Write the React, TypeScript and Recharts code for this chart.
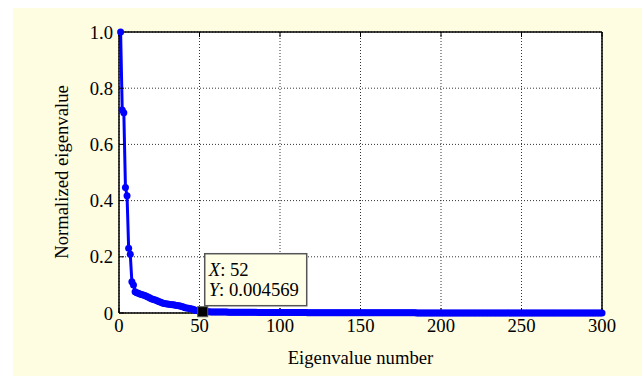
import React from 'react';
import { CartesianGrid, Line, LineChart, ReferenceDot, XAxis, YAxis } from 'recharts';

// normalized eigenvalues, index 1..300
const EIGENVALUES = [
  1.0, 0.722, 0.713, 0.447, 0.417, 0.23, 0.209, 0.111, 0.1, 0.076,
  0.072, 0.07, 0.068, 0.066, 0.064, 0.062, 0.06, 0.057, 0.054, 0.051,
  0.049, 0.047, 0.045, 0.043, 0.04, 0.038, 0.036, 0.034, 0.033, 0.032,
  0.031, 0.03, 0.029, 0.029, 0.028, 0.027, 0.026, 0.025, 0.023, 0.021,
  0.019, 0.018, 0.017, 0.016, 0.014, 0.013, 0.011, 0.009, 0.008, 0.006,
  0.0055, 0.004569, 0.0044, 0.0043, 0.0042, 0.0041, 0.004, 0.0039, 0.0038, 0.0037,
  0.0036, 0.0035, 0.0034, 0.0034, 0.0033, 0.0032, 0.0032, 0.0031, 0.003, 0.003, 0.0029, 0.0029, 0.0028, 0.0028, 0.0027, 0.0027, 0.0026, 0.0026, 0.0025, 0.0025,
  0.0024, 0.0024, 0.0024, 0.0023, 0.0023, 0.0022, 0.0022, 0.0022, 0.0021, 0.0021, 0.0021, 0.002, 0.002, 0.002, 0.0019, 0.0019, 0.0019, 0.0018, 0.0018, 0.0018,
  0.0017, 0.0017, 0.0017, 0.0017, 0.0016, 0.0016, 0.0016, 0.0016, 0.0015, 0.0015, 0.0015, 0.0015, 0.0014, 0.0014, 0.0014, 0.0014, 0.0013, 0.0013, 0.0013, 0.0013,
  0.0012, 0.0012, 0.0012, 0.0012, 0.0012, 0.0011, 0.0011, 0.0011, 0.0011, 0.0011, 0.001, 0.001, 0.001, 0.001, 0.001, 0.001, 0.0009, 0.0009, 0.0009, 0.0009,
  0.0009, 0.0009, 0.0009, 0.0008, 0.0008, 0.0008, 0.0008, 0.0008, 0.0008, 0.0008, 0.0007, 0.0007, 0.0007, 0.0007, 0.0007, 0.0007, 0.0007, 0.0007, 0.0006, 0.0006,
  0.0006, 0.0006, 0.0006, 0.0006, 0.0006, 0.0006, 0.0006, 0.0006, 0.0006, 0.0006, 0.0005, 0.0005, 0.0005, 0.0005, 0.0005, 0.0005, 0.0005, 0.0005, 0.0005, 0.0005,
  0.0005, 0.0005, 0.0005, 0.0005, 0.0004, 0.0004, 0.0004, 0.0004, 0.0004, 0.0004, 0.0004, 0.0004, 0.0004, 0.0004, 0.0004, 0.0004, 0.0004, 0.0004, 0.0004, 0.0004,
  0.0004, 0.0004, 0.0004, 0.0004, 0.0004, 0.0004, 0.0003, 0.0003, 0.0003, 0.0003, 0.0003, 0.0003, 0.0003, 0.0003, 0.0003, 0.0003, 0.0003, 0.0003, 0.0003, 0.0003,
  0.0003, 0.0003, 0.0003, 0.0003, 0.0003, 0.0003, 0.0003, 0.0003, 0.0003, 0.0003, 0.0002, 0.0002, 0.0002, 0.0002, 0.0002, 0.0002, 0.0002, 0.0002, 0.0002, 0.0002,
  0.0002, 0.0002, 0.0002, 0.0002, 0.0002, 0.0002, 0.0002, 0.0002, 0.0002, 0.0002, 0.0002, 0.0002, 0.0002, 0.0002, 0.0002, 0.0002, 0.0002, 0.0002, 0.0002, 0.0002,
  0.0002, 0.0002, 0.0002, 0.0002, 0.0002, 0.0001, 0.0001, 0.0001, 0.0001, 0.0001, 0.0001, 0.0001, 0.0001, 0.0001, 0.0001, 0.0001, 0.0001, 0.0001, 0.0001, 0.0001,
  0.0001, 0.0001, 0.0001, 0.0001, 0.0001, 0.0001, 0.0001, 0.0001, 0.0001, 0.0001, 0.0001, 0.0001, 0.0001, 0.0001, 0.0001, 0.0001, 0.0001, 0.0001, 0.0001, 0.0,
];

const X_TICKS = [0, 50, 100, 150, 200, 250, 300];
const Y_TICKS = [0, 0.2, 0.4, 0.6, 0.8, 1.0];
const TIP_X = 52;
const TIP_Y = 0.004569;

const data = EIGENVALUES.map((value, i) => ({ n: i + 1, value }));

const FONT = '"Liberation Serif", "Times New Roman", serif';
const CREAM = '#fffde1';
const AXIS_LINE = { stroke: '#000', strokeWidth: 1.5 };

function DataTip(props: any) {
  const { cx, cy } = props;
  if (cx == null || cy == null) return null;
  const bx = cx + 2;
  const by = cy - 58;
  return (
    <g>
      <rect x={bx} y={by} width={102} height={52} fill="#ffffe8" stroke="#555" strokeWidth={1.5} />
      <text x={bx + 4} y={by + 22} fontFamily={FONT} fontSize={18.67} fill="#000">
        <tspan fontStyle="italic">X</tspan>: {TIP_X}
      </text>
      <text x={bx + 4} y={by + 42} fontFamily={FONT} fontSize={18.67} fill="#000">
        <tspan fontStyle="italic">Y</tspan>: {TIP_Y}
      </text>
      <rect x={cx - 5} y={cy - 5} width={10} height={10} fill="#000" stroke="#555" strokeWidth={1} />
    </g>
  );
}

function YLabel() {
  return (
    <text
      x={48}
      y={164}
      transform="rotate(-90 48 164)"
      textAnchor="middle"
      dominantBaseline="central"
      fontFamily={FONT}
      fontSize={18.67}
      fill="#000"
    >
      Normalized eigenvalue
    </text>
  );
}

const noLabel = () => <g />;

export default function App() {
  const tick = { fontFamily: FONT, fontSize: 18.67, fill: '#000' };
  const tickLineStyle = { stroke: '#000', strokeWidth: 1 };
  return (
    <div style={{ position: 'absolute', left: 13, top: 8, width: 629, height: 368, background: CREAM }}>
      <LineChart width={629} height={368} data={data} margin={{ top: 23, right: 39, bottom: 0, left: 0 }}>
        <CartesianGrid
          fill="#fff"
          stroke="#333"
          strokeDasharray="1 2"
          horizontalValues={Y_TICKS}
          verticalValues={X_TICKS}
        />
        <XAxis
          dataKey="n"
          type="number"
          domain={[0, 300]}
          ticks={X_TICKS}
          height={63}
          tick={tick}
          tickLine={tickLineStyle}
          tickSize={-5}
          tickMargin={11}
          axisLine={AXIS_LINE}
          label={{ value: 'Eigenvalue number', position: 'insideBottom', offset: 12, style: { fontFamily: FONT, fontSize: 18.67, fill: '#000' } }}
        />
        <XAxis
          xAxisId="top"
          orientation="top"
          dataKey="n"
          type="number"
          domain={[0, 300]}
          ticks={X_TICKS}
          height={1}
          tick={noLabel}
          tickLine={tickLineStyle}
          tickSize={-5}
          axisLine={AXIS_LINE}
        />
        <YAxis
          type="number"
          domain={[0, 1]}
          ticks={Y_TICKS}
          width={106}
          tick={tick}
          tickLine={tickLineStyle}
          tickSize={-5}
          tickMargin={11}
          tickFormatter={(v: number) => (v === 0 ? '0' : v.toFixed(1))}
          axisLine={AXIS_LINE}
          label={{ content: YLabel }}
        />
        <YAxis
          yAxisId="right"
          orientation="right"
          type="number"
          domain={[0, 1]}
          ticks={Y_TICKS}
          width={1}
          tick={noLabel}
          tickLine={tickLineStyle}
          tickSize={-5}
          axisLine={AXIS_LINE}
        />
        <Line
          dataKey="value"
          stroke="#0000ff"
          strokeWidth={3}
          dot={{ r: 3.5, fill: '#0000ff', stroke: '#0000ff', strokeWidth: 0 }}
          isAnimationActive={false}
        />
        <ReferenceDot x={TIP_X} y={TIP_Y} r={5} shape={DataTip} />
      </LineChart>
    </div>
  );
}
